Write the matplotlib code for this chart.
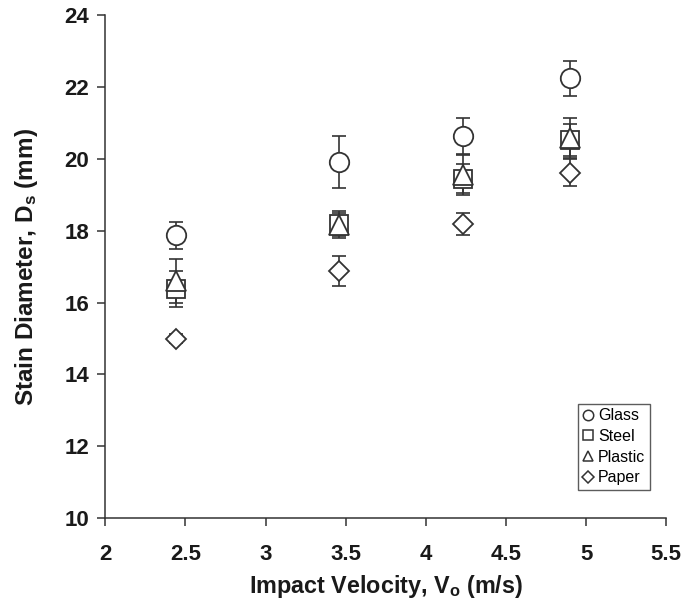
import matplotlib
matplotlib.use('Agg')
import matplotlib.pyplot as plt

plt.rcParams['font.family'] = ['Liberation Sans', 'DejaVu Sans']
plt.rcParams['mathtext.default'] = 'regular'

# impact velocity (m/s) for each surface
vel_glass = [2.44, 3.46, 4.23, 4.90]
vel_steel = [2.44, 3.46, 4.23, 4.90]
vel_plastic = [2.44, 3.46, 4.23, 4.90]
vel_paper = [2.44, 3.46, 4.23, 4.90]

# stain diameter (mm) and error bars
d_glass = [17.87, 19.92, 20.63, 22.24]
e_glass = [0.38, 0.72, 0.50, 0.48]
d_steel = [16.38, 18.20, 19.45, 20.52]
e_steel = [0.50, 0.35, 0.40, 0.45]
d_plastic = [16.60, 18.15, 19.55, 20.58]
e_plastic = [0.62, 0.35, 0.55, 0.55]
d_paper = [15.00, 16.88, 18.18, 19.62]
e_paper = [0.12, 0.42, 0.30, 0.37]

series = [
    ("Glass", vel_glass, d_glass, e_glass, 'o', 14),
    ("Steel", vel_steel, d_steel, e_steel, 's', 13),
    ("Plastic", vel_plastic, d_plastic, e_plastic, '^', 14),
    ("Paper", vel_paper, d_paper, e_paper, 'D', 10.5),
]

fig = plt.figure(figsize=(6.84, 6.04), dpi=100)
ax = fig.add_axes([0.154, 0.142, 0.82, 0.833])

ink = '#333333'
txt = '#1a1a1a'
handles = []
for name, x, y, e, m, ms in series:
    ax.errorbar(x, y, yerr=e, fmt='none', ecolor=ink, elinewidth=1.2,
                capsize=5, capthick=1.2, zorder=2)
    ax.plot(x, y, linestyle='none', marker=m, markersize=ms,
            markerfacecolor='white', markeredgecolor=ink,
            markeredgewidth=1.3, zorder=3)
    h, = ax.plot([], [], linestyle='none', marker=m,
                 markersize=7.5 if m != 'D' else 6,
                 markerfacecolor='white', markeredgecolor=ink,
                 markeredgewidth=1.1, label=name)
    handles.append(h)

ax.set_xlim(2, 5.5)
ax.set_ylim(10, 24)
ax.set_xticks([2, 2.5, 3, 3.5, 4, 4.5, 5, 5.5])
ax.set_xticklabels(['2', '2.5', '3', '3.5', '4', '4.5', '5', '5.5'])
ax.set_yticks([10, 12, 14, 16, 18, 20, 22, 24])

for s in ['top', 'right']:
    ax.spines[s].set_visible(False)
for s in ['left', 'bottom']:
    ax.spines[s].set_color(ink)
    ax.spines[s].set_linewidth(1.1)

ax.tick_params(direction='out', length=5.5, width=1.1, color=ink,
               labelsize=16)
ax.tick_params(axis='x', pad=13)
ax.tick_params(axis='y', pad=6)
for lab in ax.get_xticklabels() + ax.get_yticklabels():
    lab.set_fontweight('bold')
    lab.set_color(txt)

ax.set_xlabel("Impact Velocity, V$_o$ (m/s)", fontsize=16.8,
              fontweight='bold', color=txt, labelpad=6)
ax.set_ylabel("Stain Diameter, D$_s$ (mm)", fontsize=17.5,
              fontweight='bold', color=txt, labelpad=18)

leg = ax.legend(handles=handles, loc='lower right',
                bbox_to_anchor=(0.971, 0.056), fontsize=11.5,
                frameon=True, fancybox=False, handlelength=0.7,
                handletextpad=0.25, borderpad=0.3, labelspacing=0.35,
                borderaxespad=0)
leg.get_frame().set_edgecolor(ink)
leg.get_frame().set_linewidth(1.0)

plt.savefig("out.png", dpi=100)
